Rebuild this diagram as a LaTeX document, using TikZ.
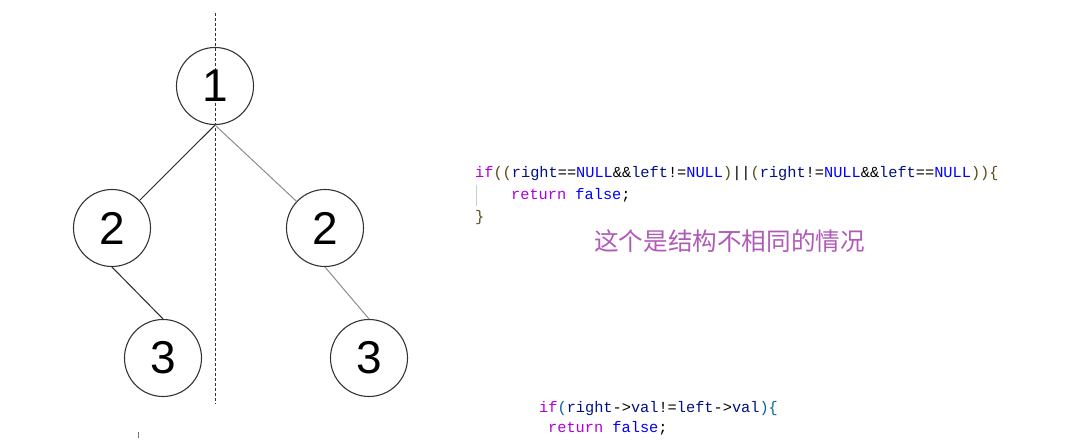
\documentclass[tikz,border=0pt]{standalone}
\usepackage{fontspec}
\setmainfont{Liberation Sans}
\setmonofont{Liberation Mono}
\newfontfamily\cjk{Noto Sans CJK SC}
\usetikzlibrary{positioning}
\definecolor{kwPurple}{RGB}{175,0,219}
\definecolor{kwBlue}{RGB}{0,0,255}
\definecolor{varNavy}{RGB}{0,16,128}
\definecolor{brGold}{RGB}{85,75,25}
\definecolor{brTeal}{RGB}{4,100,150}
\definecolor{notePurple}{RGB}{176,90,184}
\newcommand{\kw}[1]{\textcolor{kwPurple}{#1}}
\newcommand{\bl}[1]{\textcolor{kwBlue}{#1}}
\newcommand{\vr}[1]{\textcolor{varNavy}{#1}}
\tikzset{
  treenode/.style={draw=black!80, circle, line width=1.1pt, minimum size=77pt,
                   inner sep=0pt, font=\fontsize{46}{46}\selectfont},
  edgeL/.style={black!85, line width=1pt},
  edgeR/.style={black!45, line width=1pt},
  mirror/.style={black!80, line width=0.9pt, dash pattern=on 3pt off 2pt},
  code/.style={anchor=base west, inner sep=0pt,
               font=\ttfamily\fontsize{15.3}{18}\selectfont},
}
\begin{document}
\begin{tikzpicture}[x=1pt, y=-1pt]
  \useasboundingbox (0,0) rectangle (1073,443);

  % ----- symmetry axis -----
  \draw[mirror] (215,13) -- (215,404);

  % ----- tree -----
  \node[treenode] (root) at (215,86) {1};
  \node[treenode] (ltwo) at (112,228) {2};
  \node[treenode] (rtwo) at (325,228) {2};
  \node[treenode] (lthree) at (163,358) {3};
  \node[treenode] (rthree) at (369,358) {3};
  \draw[edgeL] (root.south) -- (ltwo);
  \draw[edgeR] (root.south) -- (rtwo);
  \draw[edgeL] (ltwo.south) -- (lthree.north);
  \draw[edgeR] (rtwo.south) -- (rthree.north);
  \fill[black!55] (137.5,432) rectangle (138.7,438);   % stray mark

  % ----- structure check -----
  \node[code] (cond) at (475,178)
    {\kw{if}\textcolor{brGold}{((}\vr{right}==\bl{NULL}\&\&\vr{left}!=\bl{NULL}\textcolor{brGold}{)}||\textcolor{brGold}{(}\vr{right}!=\bl{NULL}\&\&\vr{left}==\bl{NULL}\textcolor{brGold}{))\{}};
  \draw[black!20, line width=1pt] (476,185) -- (476,206);
  \node[code] (ret) at (511,200) {\kw{return} \bl{false};};
  \node[code] (close) at (475,222) {\textcolor{brGold}{\}}};
  \node[anchor=base west, inner sep=0pt, text=notePurple,
        font=\cjk\fontsize{24.6}{26}\selectfont] (note) at (594,251)
    {这个是结构不相同的情况};

  % ----- value check -----
  \node[code] (valcond) at (539,412)
    {\kw{if}\textcolor{brTeal}{(}\vr{right}->\vr{val}!=\vr{left}->\vr{val}\textcolor{brTeal}{)\{}};
  \node[code] (valret) at (548,432) {\kw{return} \bl{false};};
\end{tikzpicture}
\end{document}
